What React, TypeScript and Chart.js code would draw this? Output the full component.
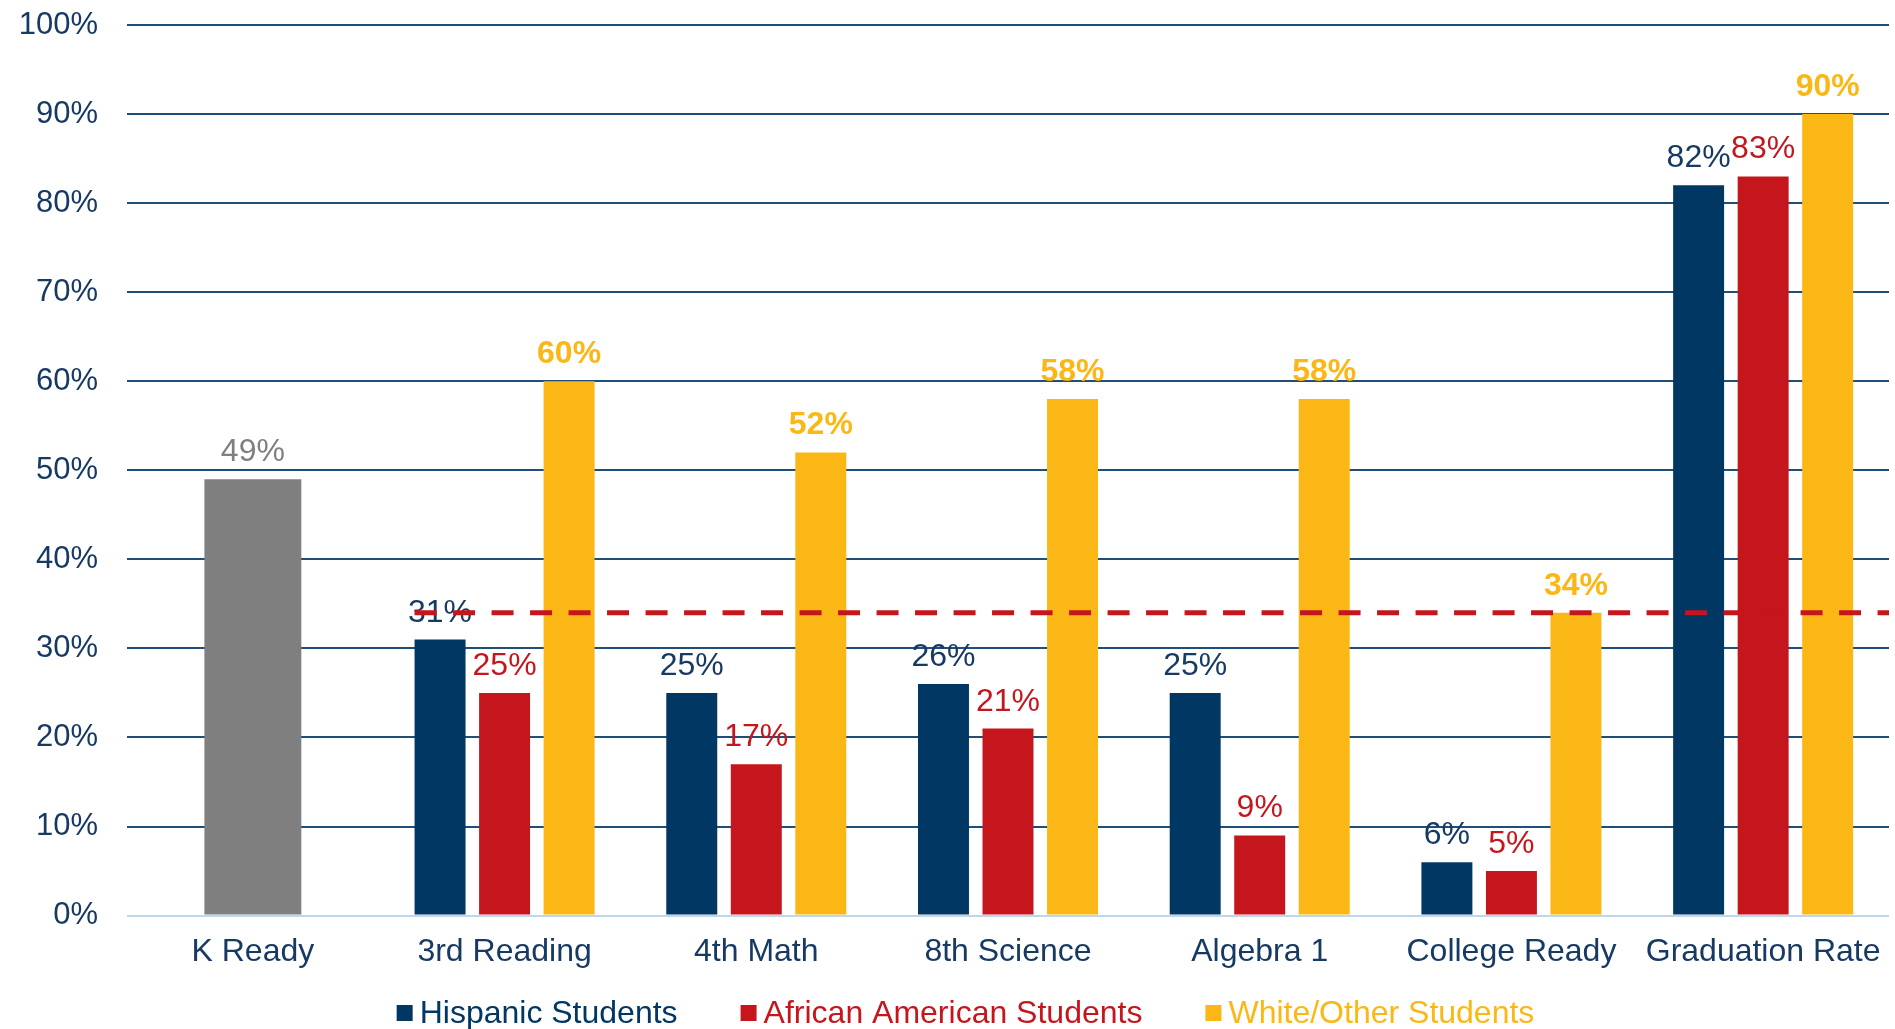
import { useEffect, useRef } from "react";
import { Chart, registerables } from "chart.js";

Chart.register(...registerables);

const categories = [
  "K Ready",
  "3rd Reading",
  "4th Math",
  "8th Science",
  "Algebra 1",
  "College Ready",
  "Graduation Rate",
];
const seriesNames = ["Hispanic Students", "African American Students", "White/Other Students"];
const hispanic = [null, 31, 25, 26, 25, 6, 82];
const africanAmerican = [null, 25, 17, 21, 9, 5, 83];
const whiteOther = [null, 60, 52, 58, 58, 34, 90];
const allStudents = [49, null, null, null, null, null, null];
const benchmark = 34;
const yMin = 0;
const yMax = 100;
const yStep = 10;

const FONT = "'Liberation Sans', Arial, sans-serif";
const NAVY = "#003763";
const RED = "#C5161D";
const YELLOW = "#FBB715";
const GRAY = "#7F7F7F";
const TEXT_NAVY = "#173A64";
const GRID = "#1F4E79";
const ZERO = "#BDD7EE";

const valueLabels = {
  id: "valueLabels",
  afterDatasetsDraw(chart: any) {
    const ctx = chart.ctx;
    chart.data.datasets.forEach((ds: any, di: number) => {
      const meta = chart.getDatasetMeta(di);
      meta.data.forEach((el: any, i: number) => {
        const v = ds.data[i];
        if (v == null) return;
        ctx.save();
        ctx.font = `${ds.labelBold ? "bold " : ""}32px ${FONT}`;
        ctx.fillStyle = ds.labelColor;
        ctx.textAlign = "center";
        ctx.textBaseline = "alphabetic";
        ctx.fillText(`${v}%`, el.x, el.y - 18);
        ctx.restore();
      });
    });
  },
};

const benchmarkLine = {
  id: "benchmarkLine",
  afterDraw(chart: any) {
    const ctx = chart.ctx;
    const y = chart.scales.y.getPixelForValue(benchmark);
    const meta = chart.getDatasetMeta(0);
    const idx = hispanic.findIndex((v) => v != null);
    const el = meta.data[idx];
    const x0 = el.x - el.width / 2;
    ctx.save();
    ctx.strokeStyle = RED;
    ctx.lineWidth = 5;
    ctx.setLineDash([22, 16.5]);
    ctx.beginPath();
    ctx.moveTo(x0, y);
    ctx.lineTo(chart.chartArea.right, y);
    ctx.stroke();
    ctx.restore();
  },
};

const customLegend = {
  id: "customLegend",
  afterDraw(chart: any) {
    const ctx = chart.ctx;
    ctx.save();
    ctx.font = `32px ${FONT}`;
    const items = chart.data.datasets.slice(0, 3).map((ds: any) => ({
      label: ds.label,
      color: ds.backgroundColor,
      w: ctx.measureText(ds.label).width,
    }));
    const box = 16;
    const boxGap = 7;
    const itemGap = 63;
    const total =
      items.reduce((s: number, it: any) => s + box + boxGap + it.w, 0) + itemGap * (items.length - 1);
    let x = (chart.width - total) / 2 + 18;
    const yc = chart.height - 16;
    ctx.textBaseline = "middle";
    ctx.textAlign = "left";
    items.forEach((it: any) => {
      ctx.fillStyle = it.color;
      ctx.fillRect(x, yc - box / 2, box, box);
      ctx.fillText(it.label, x + box + boxGap, yc + 1);
      x += box + boxGap + it.w + itemGap;
    });
    ctx.restore();
  },
};

export default function App() {
  const ref = useRef<HTMLCanvasElement | null>(null);

  useEffect(() => {
    if (!ref.current) return;
    const grouped = { categoryPercentage: 0.769, barPercentage: 0.79 };
    const chart = new Chart(ref.current, {
      type: "bar",
      data: {
        labels: categories,
        datasets: [
          {
            label: seriesNames[0],
            data: hispanic,
            backgroundColor: NAVY,
            labelColor: TEXT_NAVY,
            ...grouped,
          } as any,
          {
            label: seriesNames[1],
            data: africanAmerican,
            backgroundColor: RED,
            labelColor: RED,
            ...grouped,
          } as any,
          {
            label: seriesNames[2],
            data: whiteOther,
            backgroundColor: YELLOW,
            labelColor: YELLOW,
            labelBold: true,
            ...grouped,
          } as any,
          {
            label: "All Students",
            data: allStudents,
            backgroundColor: GRAY,
            labelColor: GRAY,
            grouped: false,
            categoryPercentage: 1,
            barPercentage: 0.385,
          } as any,
        ],
      },
      options: {
        responsive: false,
        animation: false,
        layout: { padding: { left: 19, right: 6, top: 25, bottom: 41 } },
        plugins: {
          legend: { display: false },
          tooltip: { enabled: false },
        },
        scales: {
          x: {
            grid: { display: false, drawTicks: false },
            border: { display: false },
            ticks: {
              color: TEXT_NAVY,
              font: { family: FONT, size: 32 },
              padding: 17,
            },
            afterFit: (scale: any) => {
              scale.paddingLeft = 0;
              scale.paddingRight = 0;
            },
          },
          y: {
            min: yMin,
            max: yMax,
            border: { display: false },
            grid: {
              drawTicks: false,
              lineWidth: 2,
              color: (c: any) => (c.tick && c.tick.value === 0 ? ZERO : GRID),
            },
            ticks: {
              stepSize: yStep,
              color: TEXT_NAVY,
              font: { family: FONT, size: 31 },
              padding: 29,
              callback: (v: any) => `${v}%`,
            },
            afterFit: (scale: any) => {
              scale.width = 108;
              scale.paddingTop = 0;
              scale.paddingBottom = 0;
            },
          },
        },
      },
      plugins: [valueLabels, benchmarkLine, customLegend],
    });
    return () => chart.destroy();
  }, []);

  return (
    <div style={{ position: "fixed", left: 0, top: 0, width: 1895, height: 1029, background: "#fff" }}>
      <canvas ref={ref} width={1895} height={1029} style={{ display: "block" }} />
    </div>
  );
}
